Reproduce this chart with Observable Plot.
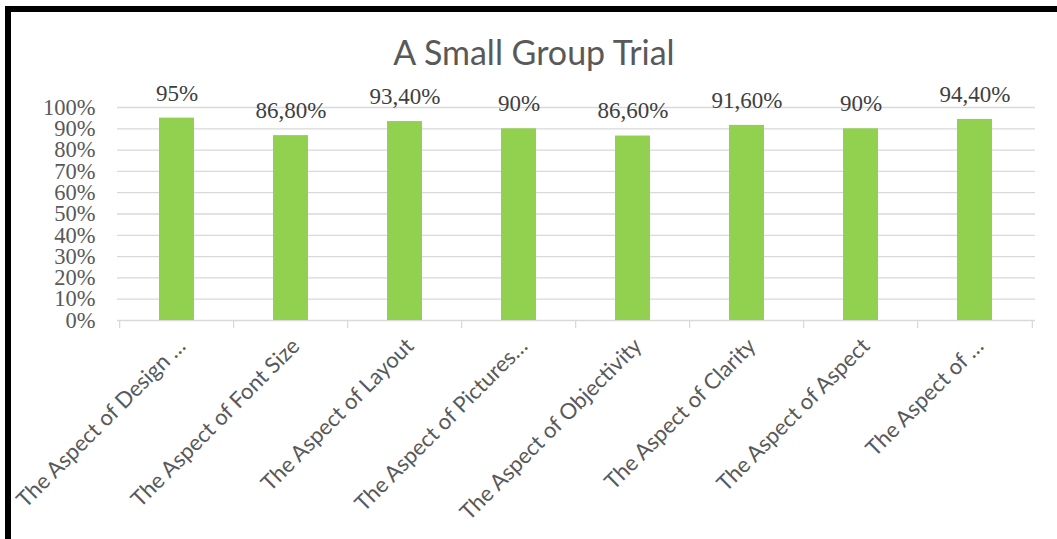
<!DOCTYPE html>
<html>
<head>
<meta charset="utf-8">
<script src="https://cdn.jsdelivr.net/npm/d3@7"></script>
<script src="https://cdn.jsdelivr.net/npm/@observablehq/plot@0.6"></script>
<style>
  html, body { margin: 0; padding: 0; background: #fff; }
  #wrap { position: relative; width: 1057px; height: 539px; overflow: hidden; background: #fff; }
  #title { position: absolute; left: 11px; width: 1046px; top: 35px; height: 40px; text-align: center;
           font-family: Lato, "Open Sans", sans-serif; font-size: 34px; line-height: 34px; color: #595959; }
  #chart { position: absolute; left: 0; top: 75px; }
  #frame { position: absolute; left: 5px; top: 6px; right: -10px; bottom: -10px;
           border-left: 6px solid #000; border-top: 6px solid #000; pointer-events: none; }
</style>
</head>
<body>
<div id="wrap">
  <div id="title">A Small Group Trial</div>
  <div id="chart"></div>
  <div id="frame"></div>
</div>
<script>
const categories = [
  "The Aspect of Design …",
  "The Aspect of Font Size",
  "The Aspect of Layout",
  "The Aspect of Pictures…",
  "The Aspect of Objectivity",
  "The Aspect of Clarity",
  "The Aspect of Aspect",
  "The Aspect of …"
];
const values = [0.95, 0.868, 0.934, 0.90, 0.866, 0.916, 0.90, 0.944];
const valueLabels = ["95%", "86,80%", "93,40%", "90%", "86,60%", "91,60%", "90%", "94,40%"];
const yTicks = [0, 0.1, 0.2, 0.3, 0.4, 0.5, 0.6, 0.7, 0.8, 0.9, 1.0];

const data = categories.map((c, i) => ({cat: c, value: values[i], label: valueLabels[i]}));

const W = 1057, H = 464;
const mL = 117, mR = 22, mT = 32, mB = 219;
const step = (W - mL - mR) / categories.length;

const chart = Plot.plot({
  width: W,
  height: H,
  marginLeft: mL,
  marginRight: mR,
  marginTop: mT,
  marginBottom: mB,
  style: {background: "transparent", overflow: "visible"},
  x: {domain: categories, paddingInner: 0.69, paddingOuter: 0.345, axis: null},
  y: {domain: [0, 1], axis: null},
  marks: [
    Plot.ruleY(yTicks, {y: d => d, stroke: "#d9d9d9", strokeWidth: 1.3}),
    Plot.ruleX(categories, {x: d => d, y1: 0, y2: 0, insetBottom: -8, dx: -step / 2, stroke: "#d9d9d9", strokeWidth: 1.3}),
    Plot.ruleX([categories[categories.length - 1]], {x: d => d, y1: 0, y2: 0, insetBottom: -8, dx: step / 2, stroke: "#d9d9d9", strokeWidth: 1.3}),
    Plot.barY(data, {x: "cat", y: "value", fill: "#92d050"}),
    Plot.text(data, {x: "cat", y: "value", text: "label", dy: -25, fill: "#404040",
      fontFamily: "Liberation Serif, serif", fontSize: 23}),
    Plot.axisY({ticks: yTicks, tickFormat: d3.format(".0%"), tickSize: 0, tickPadding: 22,
      fontFamily: "Liberation Serif, serif", fontSize: 22.5, fill: "#595959", label: null}),
    Plot.text(categories, {x: d => d, y: 0, text: d => d, rotate: -45, textAnchor: "end", lineAnchor: "middle",
      dx: 5, dy: 22, fill: "#595959", fontFamily: "Lato, sans-serif", fontSize: 22})
  ]
});
document.getElementById("chart").appendChild(chart);
</script>
</body>
</html>
